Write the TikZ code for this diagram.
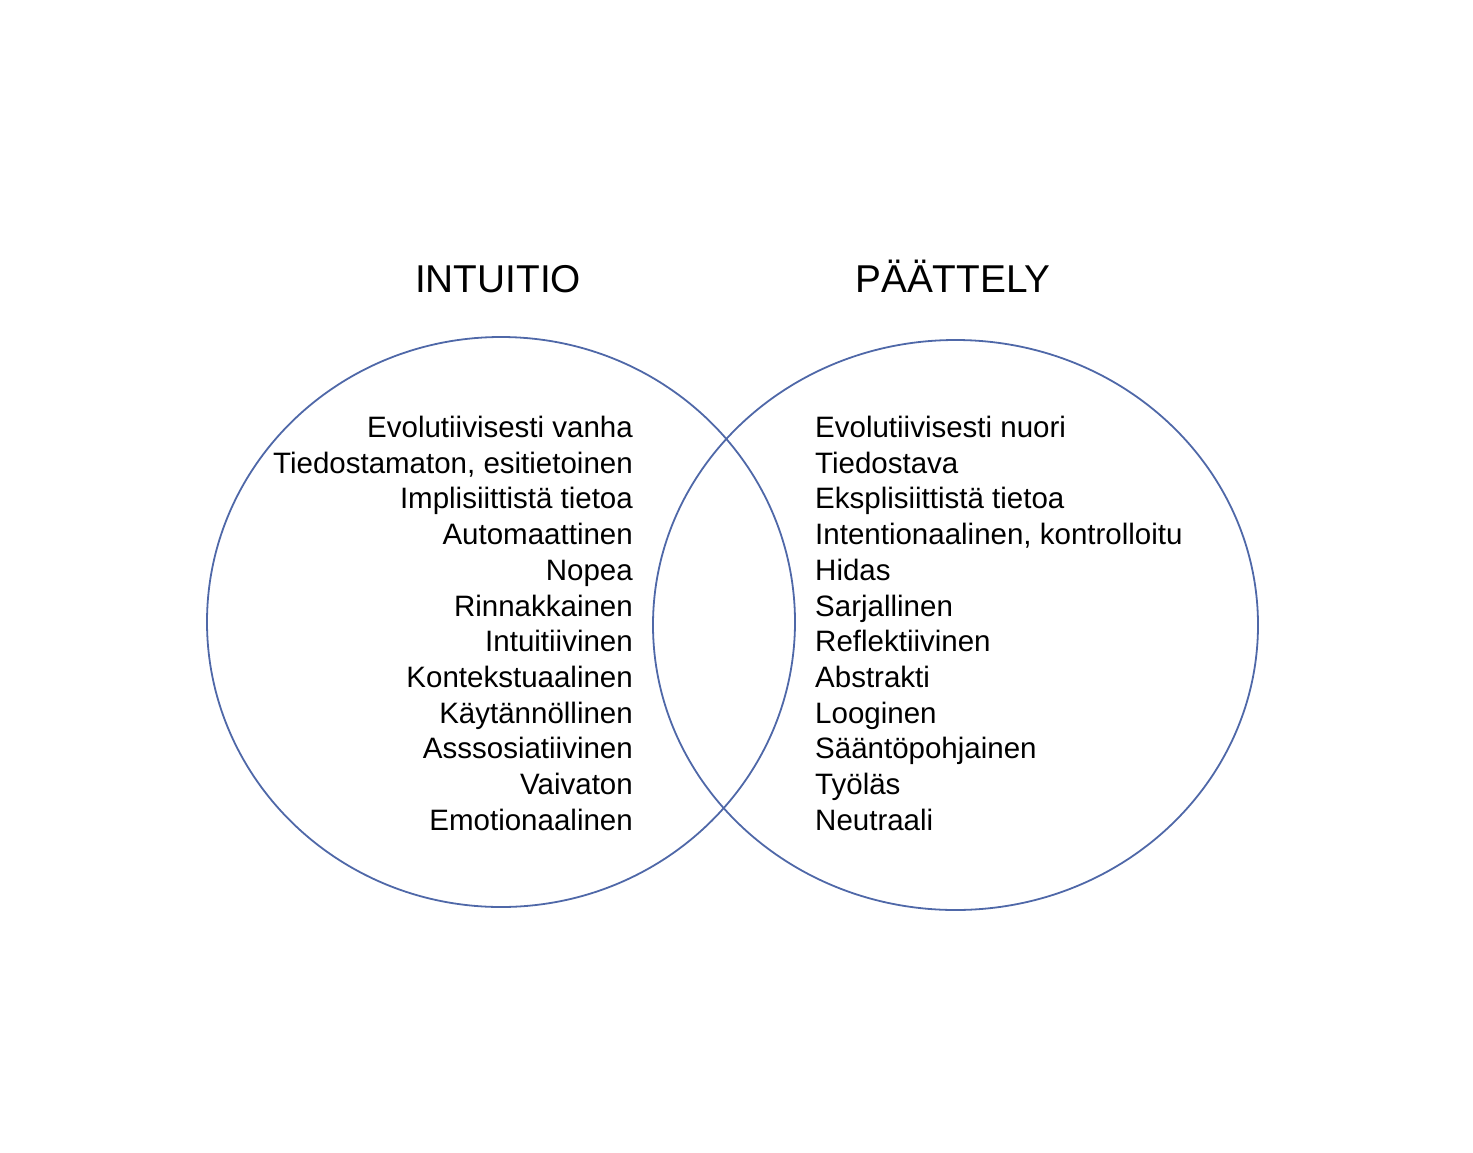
\documentclass[tikz,border=0pt]{standalone}
\usepackage{fontspec}
\setmainfont{Liberation Sans}
\definecolor{ring}{HTML}{4F68A8}
\begin{document}
\begin{tikzpicture}[x=1pt,y=-1pt,
  ring/.style={draw=ring,line width=1.8pt},
  items/.style={inner sep=0pt,font=\fontsize{29.5}{35.7}\selectfont},
  title/.style={inner sep=0pt,font=\fontsize{38.8}{44}\selectfont}]
\useasboundingbox (0,0) rectangle (1473,1152);
\draw[ring] (501,622) ellipse [x radius=294,y radius=285];
\draw[ring] (955.5,625) ellipse [x radius=302.5,y radius=285];
\node[title,anchor=base] (t1) at (498,292) {INTUITIO};
\node[title,anchor=base] (t2) at (953,292) {PÄÄTTELY};
\node[items,anchor=north east,align=right] (l) at (633,416) {Evolutiivisesti vanha\\Tiedostamaton, esitietoinen\\Implisiittistä tietoa\\Automaattinen\\Nopea\\Rinnakkainen\\Intuitiivinen\\Kontekstuaalinen\\Käytännöllinen\\Asssosiatiivinen\\Vaivaton\\Emotionaalinen};
\node[items,anchor=north west,align=left] (r) at (815,416) {Evolutiivisesti nuori\\Tiedostava\\Eksplisiittistä tietoa\\Intentionaalinen, kontrolloitu\\Hidas\\Sarjallinen\\Reflektiivinen\\Abstrakti\\Looginen\\Sääntöpohjainen\\Työläs\\Neutraali};
\end{tikzpicture}
\end{document}
